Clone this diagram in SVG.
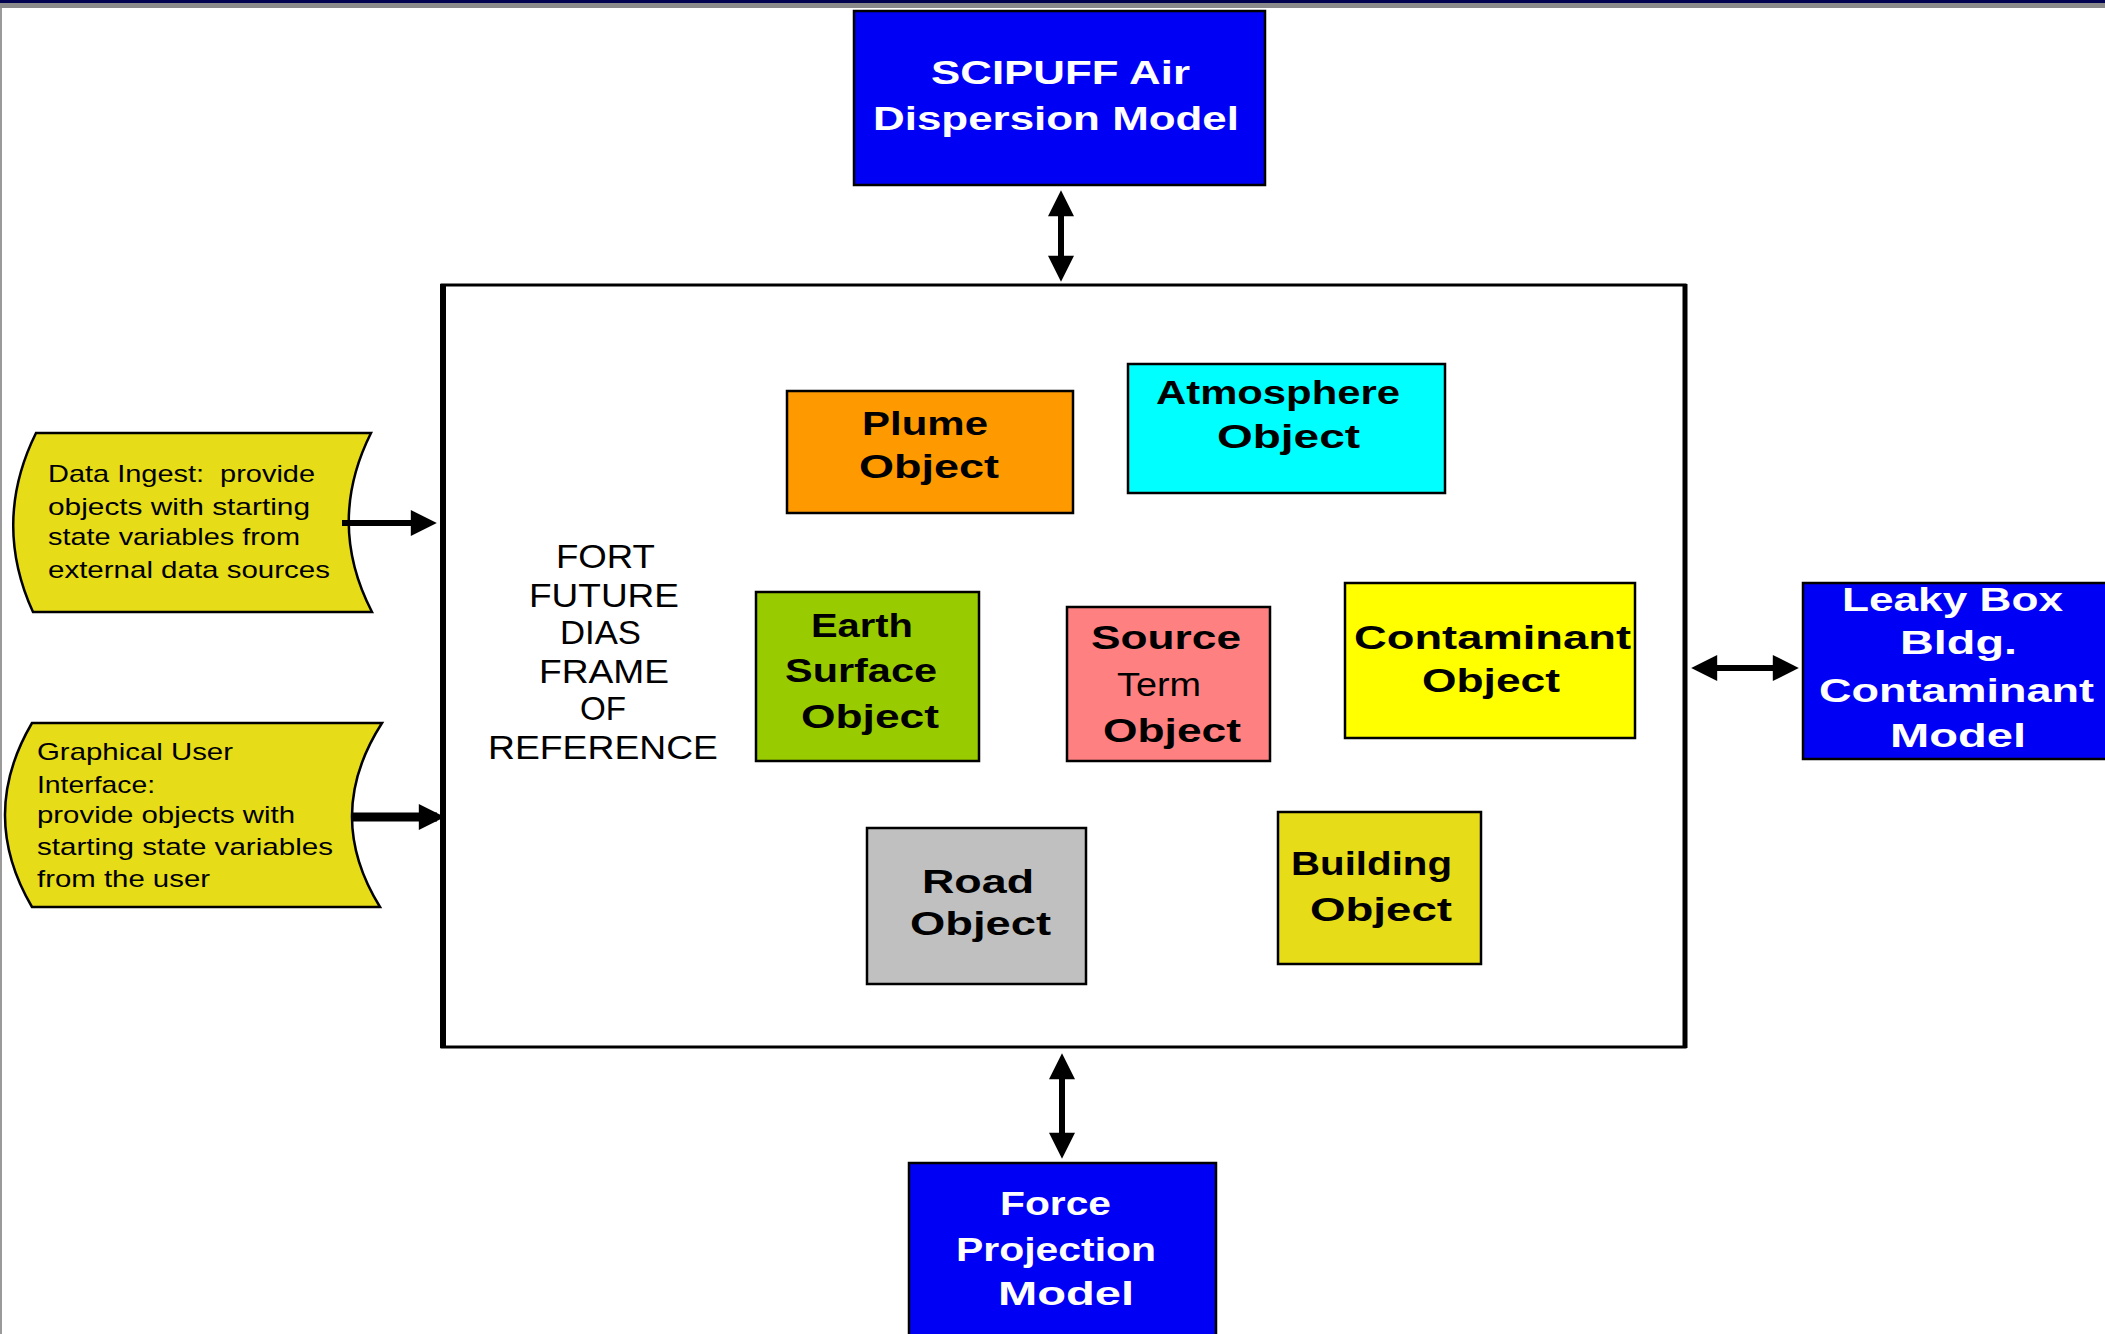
<svg xmlns="http://www.w3.org/2000/svg" width="2105" height="1334" viewBox="0 0 2105 1334">
<style>
  text { font-family: "Liberation Sans", Arial, sans-serif; }
  .obj { font-size: 33px; font-weight: bold; fill: #000; }
  .reg { font-size: 33px; font-weight: normal; fill: #000; }
  .wht { font-size: 33px; font-weight: bold; fill: #fff; }
  .note { font-size: 24px; fill: #000; }
  .box { stroke: #000; stroke-width: 2.5; }
  .conn { stroke: #000; stroke-width: 6; fill: none; }
</style>
<defs>
  <marker id="ah" viewBox="0 0 10 10" refX="7" refY="5" markerUnits="userSpaceOnUse" markerWidth="38" markerHeight="26" orient="auto-start-reverse">
    <path d="M0,0 L10,5 L0,10 Z" fill="#000"/>
  </marker>
</defs>
<rect x="0" y="0" width="2105" height="1334" fill="#fff"/>
<rect x="0" y="0" width="2105" height="3" fill="#000050"/>
<rect x="0" y="3" width="2105" height="5" fill="#8a8a8a"/>
<rect x="0" y="8" width="2" height="1326" fill="#9a9a9a"/>

<g id="frame">
  <rect x="442" y="285" width="1243" height="762" fill="#fff" stroke="#000" stroke-width="3"/>
  <line x1="443" y1="284" x2="443" y2="1048" stroke="#000" stroke-width="6"/>
  <line x1="1685" y1="284" x2="1685" y2="1048" stroke="#000" stroke-width="5"/>
  <text class="reg" x="556" y="568" textLength="99" lengthAdjust="spacingAndGlyphs">FORT</text>
  <text class="reg" x="529" y="607" textLength="150" lengthAdjust="spacingAndGlyphs">FUTURE</text>
  <text class="reg" x="560" y="644" textLength="81" lengthAdjust="spacingAndGlyphs">DIAS</text>
  <text class="reg" x="539" y="683" textLength="130" lengthAdjust="spacingAndGlyphs">FRAME</text>
  <text class="reg" x="580" y="720" textLength="46" lengthAdjust="spacingAndGlyphs">OF</text>
  <text class="reg" x="488" y="759" textLength="230" lengthAdjust="spacingAndGlyphs">REFERENCE</text>
</g>

<g id="scipuff">
  <rect class="box" x="854" y="11" width="411" height="174" fill="#0000f5"/>
  <text class="wht" x="931" y="84" textLength="259" lengthAdjust="spacingAndGlyphs">SCIPUFF Air</text>
  <text class="wht" x="873" y="130" textLength="366" lengthAdjust="spacingAndGlyphs">Dispersion Model</text>
</g>

<g id="leaky">
  <rect class="box" x="1803" y="583" width="310" height="176" fill="#0000f5"/>
  <text class="wht" x="1842" y="611" textLength="221" lengthAdjust="spacingAndGlyphs">Leaky Box</text>
  <text class="wht" x="1900" y="654" textLength="117" lengthAdjust="spacingAndGlyphs">Bldg.</text>
  <text class="wht" x="1819" y="702" textLength="275" lengthAdjust="spacingAndGlyphs">Contaminant</text>
  <text class="wht" x="1890" y="747" textLength="136" lengthAdjust="spacingAndGlyphs">Model</text>
</g>

<g id="force">
  <rect class="box" x="909" y="1163" width="307" height="180" fill="#0000f5"/>
  <text class="wht" x="1000" y="1215" textLength="111" lengthAdjust="spacingAndGlyphs">Force</text>
  <text class="wht" x="956" y="1261" textLength="200" lengthAdjust="spacingAndGlyphs">Projection</text>
  <text class="wht" x="998" y="1305" textLength="136" lengthAdjust="spacingAndGlyphs">Model</text>
</g>

<g id="plume">
  <rect class="box" x="787" y="391" width="286" height="122" fill="#ff9900"/>
  <text class="obj" x="862" y="435" textLength="126" lengthAdjust="spacingAndGlyphs">Plume</text>
  <text class="obj" x="859" y="478" textLength="140" lengthAdjust="spacingAndGlyphs">Object</text>
</g>

<g id="atmosphere">
  <rect class="box" x="1128" y="364" width="317" height="129" fill="#00ffff"/>
  <text class="obj" x="1156" y="404" textLength="244" lengthAdjust="spacingAndGlyphs">Atmosphere</text>
  <text class="obj" x="1217" y="448" textLength="143" lengthAdjust="spacingAndGlyphs">Object</text>
</g>

<g id="earth">
  <rect class="box" x="756" y="592" width="223" height="169" fill="#99cc00"/>
  <text class="obj" x="811" y="637" textLength="102" lengthAdjust="spacingAndGlyphs">Earth</text>
  <text class="obj" x="785" y="682" textLength="152" lengthAdjust="spacingAndGlyphs">Surface</text>
  <text class="obj" x="801" y="728" textLength="138" lengthAdjust="spacingAndGlyphs">Object</text>
</g>

<g id="source">
  <rect class="box" x="1067" y="607" width="203" height="154" fill="#ff8080"/>
  <text class="obj" x="1091" y="649" textLength="150" lengthAdjust="spacingAndGlyphs">Source</text>
  <text class="reg" x="1117" y="696" textLength="84" lengthAdjust="spacingAndGlyphs">Term</text>
  <text class="obj" x="1103" y="742" textLength="138" lengthAdjust="spacingAndGlyphs">Object</text>
</g>

<g id="contaminant">
  <rect class="box" x="1345" y="583" width="290" height="155" fill="#ffff00"/>
  <text class="obj" x="1354" y="649" textLength="277" lengthAdjust="spacingAndGlyphs">Contaminant</text>
  <text class="obj" x="1422" y="692" textLength="138" lengthAdjust="spacingAndGlyphs">Object</text>
</g>

<g id="road">
  <rect class="box" x="867" y="828" width="219" height="156" fill="#c0c0c0"/>
  <text class="obj" x="922" y="893" textLength="112" lengthAdjust="spacingAndGlyphs">Road</text>
  <text class="obj" x="910" y="935" textLength="141" lengthAdjust="spacingAndGlyphs">Object</text>
</g>

<g id="building">
  <rect class="box" x="1278" y="812" width="203" height="152" fill="#e6dc17"/>
  <text class="obj" x="1291" y="875" textLength="161" lengthAdjust="spacingAndGlyphs">Building</text>
  <text class="obj" x="1310" y="921" textLength="142" lengthAdjust="spacingAndGlyphs">Object</text>
</g>

<g id="data-ingest">
  <path class="box" d="M36,433 L371,433 Q326,523 372,612 L33,612 Q-8,522 36,433 Z" fill="#e6dc17"/>
  <text class="note" xml:space="preserve" x="48" y="482" textLength="267" lengthAdjust="spacingAndGlyphs">Data Ingest:  provide</text>
  <text class="note" x="48" y="515" textLength="262" lengthAdjust="spacingAndGlyphs">objects with starting</text>
  <text class="note" x="48" y="545" textLength="252" lengthAdjust="spacingAndGlyphs">state variables from</text>
  <text class="note" x="48" y="578" textLength="282" lengthAdjust="spacingAndGlyphs">external data sources</text>
</g>

<g id="gui">
  <path class="box" d="M32,723 L382,723 Q323,815 380,907 L32,907 Q-22,815 32,723 Z" fill="#e6dc17"/>
  <text class="note" x="37" y="760" textLength="196" lengthAdjust="spacingAndGlyphs">Graphical User</text>
  <text class="note" x="37" y="793" textLength="118" lengthAdjust="spacingAndGlyphs">Interface:</text>
  <text class="note" x="37" y="823" textLength="258" lengthAdjust="spacingAndGlyphs">provide objects with</text>
  <text class="note" x="37" y="855" textLength="296" lengthAdjust="spacingAndGlyphs">starting state variables</text>
  <text class="note" x="37" y="887" textLength="173" lengthAdjust="spacingAndGlyphs">from the user</text>
</g>

<g id="connectors">
  <path class="conn" d="M1061,198 L1061,274" marker-start="url(#ah)" marker-end="url(#ah)"/>
  <path class="conn" d="M1062,1061 L1062,1151" marker-start="url(#ah)" marker-end="url(#ah)"/>
  <path class="conn" d="M1699,668 L1791,668" marker-start="url(#ah)" marker-end="url(#ah)"/>
  <path class="conn" d="M342,523 L429,523" marker-end="url(#ah)"/>
  <path class="conn" style="stroke-width:9" d="M352,817 L437,817" marker-end="url(#ah)"/>
</g>
</svg>
